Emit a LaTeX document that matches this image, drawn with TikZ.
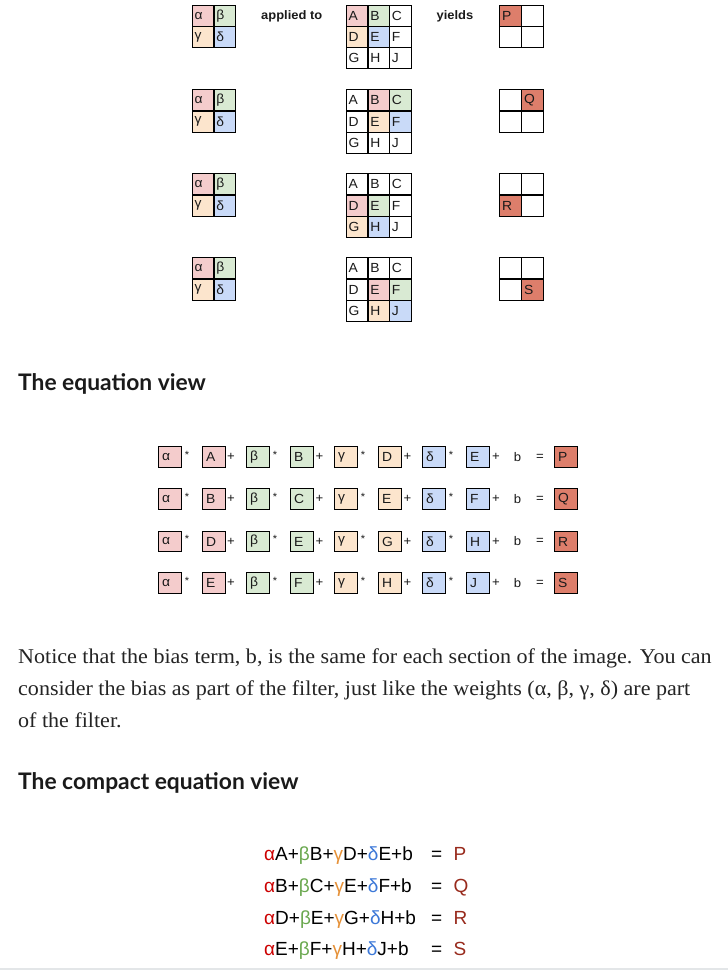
\documentclass[tikz,border=0pt]{standalone}
\usepackage{fontspec}
\setmainfont{Liberation Sans}
\newfontfamily\gridfont{Liberation Sans}[FakeStretch=1.05]
\newfontfamily\parafont{Liberation Serif}[FakeStretch=1.05]
\newfontfamily\headfont{Lato}
\definecolor{fpink}{HTML}{F4CCCC}
\definecolor{fgreen}{HTML}{D9EAD3}
\definecolor{forange}{HTML}{FCE5CD}
\definecolor{fblue}{HTML}{C9DAF8}
\definecolor{fred}{HTML}{DD7E6B}
\definecolor{ink}{HTML}{1A1A1A}
\definecolor{para}{HTML}{242424}
\definecolor{cred}{HTML}{CC0000}
\definecolor{cgreen}{HTML}{6AA84F}
\definecolor{corange}{HTML}{E69138}
\definecolor{cblue}{HTML}{3C78D8}
\definecolor{cres}{HTML}{982A1C}
\definecolor{barc}{HTML}{E3E6E8}
\begin{document}
\begin{tikzpicture}[x=1pt,y=-1pt,
  cell/.style={draw=black, line width=1.1pt, anchor=north west,
    minimum height=21.1pt, inner xsep=2.3pt, inner ysep=0pt,
    text width=17.1pt, align=left, text=ink,
    font=\gridfont\fontsize{13.2}{14}\selectfont},
  eqbox/.style={draw=black, line width=1.1pt, anchor=west,
    minimum height=20.8pt, inner xsep=3.3pt, inner ysep=0pt,
    text width=15.7pt, align=left, text=ink,
    font=\gridfont\fontsize{13.2}{14}\selectfont},
  oper/.style={text=ink, inner sep=0pt, font=\gridfont\fontsize{12.5}{13}\selectfont},
  star/.style={text=ink, inner sep=0pt, font=\gridfont\fontsize{10.5}{11}\selectfont},
  toplabel/.style={text=ink, inner sep=0pt, font=\gridfont\bfseries\fontsize{12.3}{13}\selectfont},
  heading/.style={anchor=base west, inner sep=0pt, text=ink,
    font=\headfont\bfseries\fontsize{22.8}{25}\selectfont},
  paraline/.style={anchor=base west, inner sep=0pt, text=para,
    font=\parafont\fontsize{21}{25}\selectfont},
  compact/.style={inner sep=0pt, text=black, font=\fontsize{19}{22}\selectfont}
]
\useasboundingbox (0,0) rectangle (728,970);
\fill[white] (0,0) rectangle (728,970);

% ---------- filter / input / output grids ----------
\foreach \r/\yt in {1/5, 2/89.3, 3/173.3, 4/257.3} {
  \foreach \i/\j/\L/\c in {0/0/α/fpink, 0/1/β/fgreen, 1/0/γ/forange, 1/1/δ/fblue} {
    \node[cell, fill=\c] (f\r-\i\j) at ({191.7+21.7*\j},{\yt+21.1*\i}) {\L};
  }
}
\newcommand\igrid[2]{%
  \foreach \i/\j/\L/\c in {#2} {
    \node[cell, fill=\c] (in#1-\L) at ({345.7+21.7*\j},{\igridtop+21.1*\i}) {\L};
  }}
\def\igridtop{5}
\igrid{1}{0/0/A/fpink, 0/1/B/fgreen, 0/2/C/white, 1/0/D/forange, 1/1/E/fblue, 1/2/F/white, 2/0/G/white, 2/1/H/white, 2/2/J/white}
\def\igridtop{89.3}
\igrid{2}{0/0/A/white, 0/1/B/fpink, 0/2/C/fgreen, 1/0/D/white, 1/1/E/forange, 1/2/F/fblue, 2/0/G/white, 2/1/H/white, 2/2/J/white}
\def\igridtop{173.3}
\igrid{3}{0/0/A/white, 0/1/B/white, 0/2/C/white, 1/0/D/fpink, 1/1/E/fgreen, 1/2/F/white, 2/0/G/forange, 2/1/H/fblue, 2/2/J/white}
\def\igridtop{257.3}
\igrid{4}{0/0/A/white, 0/1/B/white, 0/2/C/white, 1/0/D/white, 1/1/E/fpink, 1/2/F/fgreen, 2/0/G/white, 2/1/H/forange, 2/2/J/fblue}

\foreach \r/\yt/\ri/\rj/\L in {1/5/0/0/P, 2/89.3/0/1/Q, 3/173.3/1/0/R, 4/257.3/1/1/S} {
  \foreach \i in {0,1} {
    \foreach \j in {0,1} {
      \node[cell, fill=white] (out\r-\i\j) at ({499.3+21.9*\j},{\yt+21.1*\i}) {};
    }
  }
  \node[cell, fill=fred] (res\r) at ({499.3+21.9*\rj},{\yt+21.1*\ri}) {\L};
}

\node[toplabel] (applied) at (291.7,16) {applied to};
\node[toplabel] (yields) at (455,16) {yields};

% ---------- headings ----------
\node[heading] (h1) at (18,390) {The equation view};
\node[heading] (h2) at (18,789) {The compact equation view};

% ---------- equation view ----------
\foreach \r/\yc/\la/\lb/\lc/\ld/\res in {1/457/A/B/D/E/P, 2/499/B/C/E/F/Q, 3/541.5/D/E/G/H/R, 4/583/E/F/H/J/S} {
  \node[eqbox, fill=fpink]   (e\r-1) at (158.3,\yc) {α};
  \node[eqbox, fill=fpink]   (e\r-2) at (202.3,\yc) {\la};
  \node[eqbox, fill=fgreen]  (e\r-3) at (246.3,\yc) {β};
  \node[eqbox, fill=fgreen]  (e\r-4) at (290.3,\yc) {\lb};
  \node[eqbox, fill=forange] (e\r-5) at (334.3,\yc) {γ};
  \node[eqbox, fill=forange] (e\r-6) at (378.3,\yc) {\lc};
  \node[eqbox, fill=fblue]   (e\r-7) at (422.3,\yc) {δ};
  \node[eqbox, fill=fblue]   (e\r-8) at (466.3,\yc) {\ld};
  \node[star] (o\r-1) at (186.9,{\yc-2.5}) {*};
  \node[oper] (o\r-2) at (231.0,\yc) {+};
  \node[star] (o\r-3) at (274.9,{\yc-2.5}) {*};
  \node[oper] (o\r-4) at (319.5,\yc) {+};
  \node[star] (o\r-5) at (362.9,{\yc-2.5}) {*};
  \node[oper] (o\r-6) at (407.5,\yc) {+};
  \node[star] (o\r-7) at (450.9,{\yc-2.5}) {*};
  \node[oper] (o\r-8) at (496.0,\yc) {+};
  \node[oper] (b\r) at (517.5,\yc) {b};
  \node[oper] (eq\r) at (540,\yc) {=};
  \node[eqbox, fill=fred] (e\r-9) at (554.3,\yc) {\res};
}

% ---------- paragraph ----------
\node[paraline] (p1) at (18,663) {Notice that the bias term, b, is the same for each section of the image. You can};
\node[paraline] (p2) at (18,695) {consider the bias as part of the filter, just like the weights (α, β, γ, δ) are part};
\node[paraline] (p3) at (18,727) {of the filter.};

% ---------- compact equations ----------
\foreach \r/\yb/\la/\lb/\lc/\ld/\res in {1/860.7/A/B/D/E/P, 2/892.5/B/C/E/F/Q, 3/924.3/D/E/G/H/R, 4/955.7/E/F/H/J/S} {
  \node[compact, anchor=base west] (c\r) at (264,\yb)
    {\textcolor{cred}{α}\la+\textcolor{cgreen}{β}\lb+\textcolor{corange}{γ}\lc+\textcolor{cblue}{δ}\ld+b};
  \node[compact, anchor=base] (ce\r) at (436.7,\yb) {=};
  \node[compact, anchor=base west, text=cres] (cr\r) at (453.3,\yb) {\res};
}

% ---------- bottom rule ----------
\fill[barc] (0,967.5) rectangle (728,970);
\end{tikzpicture}
\end{document}
